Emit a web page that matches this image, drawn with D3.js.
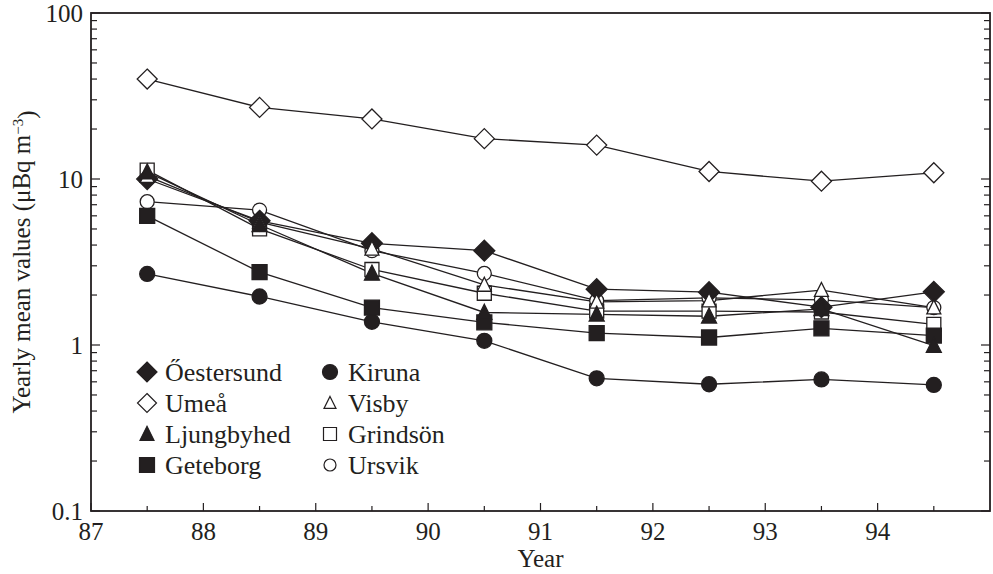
<!DOCTYPE html>
<html>
<head>
<meta charset="utf-8">
<script src="https://cdn.jsdelivr.net/npm/d3@7"></script>
<style>
    body { margin: 0; background: #fff; }
    svg { display: block; }
    svg text { font-family: "Liberation Serif", "DejaVu Serif", serif; }
</style>
</head>
<body>
<svg id="chart" width="993" height="574"></svg>
<script>
// values, one array per station
var years = [87.5, 88.5, 89.5, 90.5, 91.5, 92.5, 93.5, 94.5];
var oestersund = [10.0, 5.6, 4.1, 3.7, 2.17, 2.08, 1.69, 2.09];
var umea = [40, 27, 23, 17.5, 16, 11.1, 9.7, 10.9];
var ljungbyhed = [11.0, 5.3, 2.7, 1.57, 1.53, 1.49, 1.65, 0.99];
var geteborg = [6.0, 2.75, 1.68, 1.37, 1.18, 1.11, 1.26, 1.14];
var kiruna = [2.68, 1.96, 1.38, 1.06, 0.63, 0.58, 0.62, 0.575];
var visby = [10.4, 5.5, 3.8, 2.3, 1.82, 1.85, 2.14, 1.68];
var grindson = [11.3, 5.0, 2.85, 2.05, 1.6, 1.6, 1.58, 1.33];
var ursvik = [7.3, 6.5, 3.7, 2.7, 1.85, 1.92, 1.87, 1.68];

var x_ticks = [87, 88, 89, 90, 91, 92, 93, 94];
var x_minor = [87.5, 88.5, 89.5, 90.5, 91.5, 92.5, 93.5, 94.5];
var y_ticks = [0.1, 1, 10, 100];
var y_labels = ["0.1", "1", "10", "100"];

// legend order (two columns of four)
var series = [
    {name: "Őestersund", values: oestersund, shape: "diamond", fill: true},
    {name: "Umeå", values: umea, shape: "diamond", fill: false},
    {name: "Ljungbyhed", values: ljungbyhed, shape: "triangle", fill: true},
    {name: "Geteborg", values: geteborg, shape: "square", fill: true},
    {name: "Kiruna", values: kiruna, shape: "circle", fill: true},
    {name: "Visby", values: visby, shape: "triangle", fill: false},
    {name: "Grindsön", values: grindson, shape: "square", fill: false},
    {name: "Ursvik", values: ursvik, shape: "circle", fill: false}
];
// stacking of the markers where they overlap
var draw_order = ["Ursvik", "Grindsön", "Umeå", "Kiruna", "Őestersund", "Visby", "Geteborg", "Ljungbyhed"];

var ink = "#231f20";

function shape_path(shape, s) {
    // s = rough width of the marker in px
    var h = s / 2;
    if (shape == "diamond") return "M0," + (-h) + "L" + h + ",0L0," + h + "L" + (-h) + ",0Z";
    if (shape == "square") return "M" + (-h) + "," + (-h) + "h" + s + "v" + s + "h" + (-s) + "Z";
    if (shape == "triangle") return "M0," + (-h * 1.1) + "L" + h + "," + (h * 0.9) + "L" + (-h) + "," + (h * 0.9) + "Z";
    return d3.arc()({innerRadius: 0, outerRadius: h, startAngle: 0, endAngle: 2 * Math.PI});
}

function marker_size(shape) {
    return {diamond: 21, square: 15, triangle: 15, circle: 15}[shape];
}

function draw_chart() {
    var svg = d3.select("#chart"),
        margins = {"left": 91, "right": 3, "top": 13, "bottom": 63},
        width = 993, height = 574;

    var x = d3.scaleLinear().domain([87, 95]).range([margins.left, width - margins.right]),
        y = d3.scaleLog().domain([0.1, 100]).range([height - margins.bottom, margins.top]);

    var minor_y = [];
    [0.1, 1, 10].forEach(d => { for (var k = 2; k <= 9; k++) minor_y.push(d * k); });

    var axes = svg.append("g").attr("stroke", ink).attr("stroke-width", 1.2);

    // frame
    axes.append("rect")
        .attr("x", x.range()[0]).attr("y", y.range()[1])
        .attr("width", x.range()[1] - x.range()[0])
        .attr("height", y.range()[0] - y.range()[1])
        .attr("fill", "none").attr("stroke-width", 1.8);

    // bottom ticks, inward
    axes.selectAll(".xt").data(x_ticks).enter().append("line")
        .attr("x1", d => x(d)).attr("x2", d => x(d))
        .attr("y1", y(0.1)).attr("y2", y(0.1) - 8);
    axes.selectAll(".xm").data(x_minor).enter().append("line")
        .attr("x1", d => x(d)).attr("x2", d => x(d))
        .attr("y1", y(0.1)).attr("y2", y(0.1) - 5);

    // left + right ticks, inward
    [[x.range()[0], 1], [x.range()[1], -1]].forEach(side => {
        axes.append("g").selectAll("line").data(y_ticks).enter().append("line")
            .attr("x1", side[0]).attr("x2", side[0] + side[1] * 9)
            .attr("y1", d => y(d)).attr("y2", d => y(d));
        axes.append("g").selectAll("line").data(minor_y).enter().append("line")
            .attr("x1", side[0]).attr("x2", side[0] + side[1] * 6)
            .attr("y1", d => y(d)).attr("y2", d => y(d));
    });

    var labels = svg.append("g").attr("fill", ink).style("font-size", "25px");

    labels.selectAll(".yl").data(y_ticks).enter().append("text")
        .attr("x", x.range()[0] - 8).attr("y", d => y(d))
        .attr("dy", "0.35em").attr("text-anchor", "end")
        .text((d, i) => y_labels[i]);

    labels.selectAll(".xl").data(x_ticks).enter().append("text")
        .attr("x", d => x(d)).attr("y", y(0.1) + 29)
        .attr("text-anchor", "middle")
        .text(d => d);

    labels.append("text")
        .attr("x", (x.range()[0] + x.range()[1]) / 2).attr("y", 567)
        .attr("text-anchor", "middle").text("Year");

    var ytitle = labels.append("text")
        .attr("transform", "translate(30," + ((y.range()[0] + y.range()[1]) / 2) + ") rotate(-90)")
        .attr("text-anchor", "middle");
    ytitle.append("tspan").text("Yearly mean values (μBq m");
    ytitle.append("tspan").attr("dy", "-0.45em").style("font-size", "15px").text("−3");
    ytitle.append("tspan").attr("dy", "0.45em").text(")");

    // lines
    var line = d3.line().x((d, i) => x(years[i])).y(d => y(d));
    svg.append("g").selectAll("path").data(series).enter().append("path")
        .attr("d", d => line(d.values))
        .attr("fill", "none").attr("stroke", ink).attr("stroke-width", 1.3);

    // markers
    draw_order.forEach(name => {
        var s = series.find(d => d.name == name);
        svg.append("g").selectAll("path").data(s.values).enter().append("path")
            .attr("transform", (d, i) => "translate(" + x(years[i]) + "," + y(d) + ")")
            .attr("d", shape_path(s.shape, marker_size(s.shape) - (s.fill ? 0 : 1)))
            .attr("fill", s.fill ? ink : "#fff")
            .attr("stroke", ink).attr("stroke-width", 1.3);
    });

    // legend, two columns of four
    var legend = svg.append("g");
    var legend_sizes = {
        "diamond": [20, 19], "triangle": [14, 12], "square": [15, 13], "circle": [15, 12]
    };
    series.forEach((s, i) => {
        var col = Math.floor(i / 4), row = i % 4,
            lx = 147 + col * 183, ly = 372 + row * 31;
        var size = legend_sizes[s.shape][s.fill ? 0 : 1];
        legend.append("path")
            .attr("transform", "translate(" + lx + "," + ly + ")")
            .attr("d", shape_path(s.shape, size))
            .attr("fill", s.fill ? ink : "#fff")
            .attr("stroke", ink).attr("stroke-width", 1.2);
        legend.append("text")
            .attr("x", lx + 18).attr("y", ly).attr("dy", "0.35em")
            .attr("fill", ink).style("font-size", "26px")
            .text(s.name);
    });
}

draw_chart();
</script>
</body>
</html>
